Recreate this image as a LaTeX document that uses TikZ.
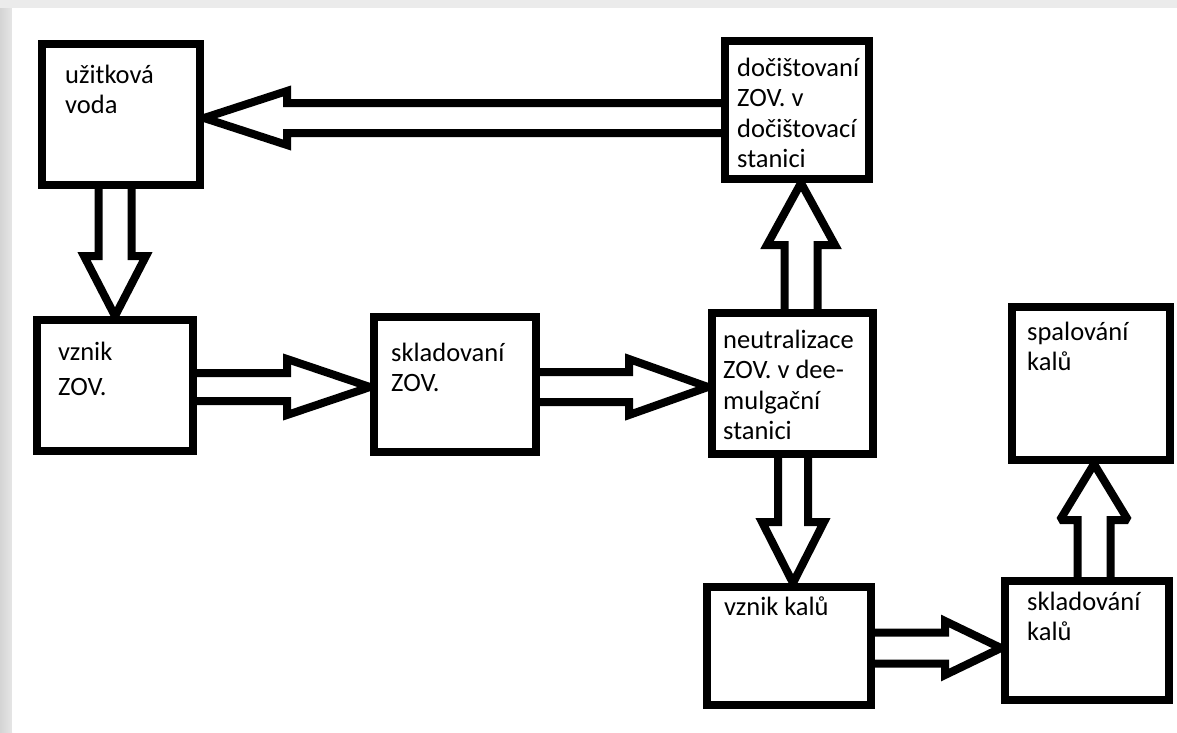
\documentclass[tikz,border=0pt]{standalone}
\usepackage{fontspec}
\setmainfont{Carlito}
\usetikzlibrary{calc}

\tikzset{
  blok/.style={draw, line width=8pt, fill=white},
  popis/.style={anchor=north west, align=left, inner sep=0pt},
  sipka/.style={line width=8pt, line join=miter, miter limit=2}
}

% hollow block arrow: from, to, head length, shaft half width, head half width
\newcommand{\blockarrow}[5]{%
  \coordinate (hb) at ($(#2)!#3!(#1)$);
  \draw[sipka] ($(#1)!#4!90:(#2)$) -- ($(hb)!#4!-90:(#1)$) -- ($(hb)!#5!-90:(#1)$) -- (#2)
    -- ($(hb)!#5!90:(#1)$) -- ($(hb)!#4!90:(#1)$) -- ($(#1)!#4!-90:(#2)$);
}

\begin{document}
\begin{tikzpicture}[x=1pt,y=-1pt]
    \useasboundingbox (0,0) rectangle (1177,732);

    % background
    \fill[black!8] (0,0) rectangle (1177,732);
    \shade[left color=black!17, right color=black!10] (0,8) rectangle (12,732);
    \fill[white] (12,8) rectangle (1177,732);

    \begin{scope}[font=\fontsize{26.5}{30.5}\selectfont]

    % boxes
    \node[blok, minimum width=158pt, minimum height=141pt] (uv) at (121,114.5) {};
    \node[blok, minimum width=144pt, minimum height=138pt] (doc) at (797,110) {};
    \node[blok, minimum width=156pt, minimum height=131pt] (zov) at (115,385.5) {};
    \node[blok, minimum width=162pt, minimum height=135pt] (skl) at (455,384.5) {};
    \node[blok, minimum width=161pt, minimum height=141pt] (neu) at (792.5,383.5) {};
    \node[blok, minimum width=164pt, minimum height=118pt] (kal) at (789,646) {};
    \node[blok, minimum width=164pt, minimum height=119pt] (skk) at (1087,640.5) {};
    \node[blok, minimum width=158pt, minimum height=153pt] (spa) at (1091,383.5) {};

    % texts
    \node[popis] (uvt) at ($(uv.north west)+(27,21.6)$) {\strut užitková\\voda};
    \node[popis] (doct) at ($(doc.north west)+(16,17.6)$) {\strut dočištovaní\\ZOV. v\\dočištovací\\stanici};
    \node[popis, font=\fontsize{26.5}{35}\selectfont] (zovt) at ($(zov.north west)+(25,19.5)$) {\strut vznik\\ZOV.};
    \node[popis] (sklt) at ($(skl.north west)+(21,26.6)$) {\strut skladovaní\\ZOV.};
    \node[popis] (neut) at ($(neu.north west)+(15,17.6)$) {\strut neutralizace\\ZOV. v dee-\\mulgační\\stanici};
    \node[popis] (kalt) at ($(kal.north west)+(21,10.6)$) {\strut vznik kalů};
    \node[popis] (skkt) at ($(skk.north west)+(26,11.6)$) {\strut skladování\\kalů};
    \node[popis] (spat) at ($(spa.north west)+(19,15.6)$) {\strut spalování\\kalů};

    % arrows
    \coordinate (a1) at ($(uv.south)+(-6,0)$);
    \coordinate (b1) at (a1 |- zov.north);
    \blockarrow{a1}{b1}{60pt}{16.5pt}{31pt}

    \coordinate (a2) at ($(doc.west)+(0,8)$);
    \coordinate (b2) at (a2 -| uv.east);
    \blockarrow{a2}{b2}{83pt}{15pt}{27pt}

    \coordinate (a3) at ($(zov.east)+(0,1.5)$);
    \coordinate (b3) at (a3 -| skl.west);
    \blockarrow{a3}{b3}{83pt}{14pt}{28pt}

    \coordinate (a4) at ($(skl.east)+(0,2.5)$);
    \coordinate (b4) at (a4 -| neu.west);
    \blockarrow{a4}{b4}{79pt}{15pt}{28pt}

    \coordinate (a5) at ($(neu.north)+(8.5,0)$);
    \coordinate (b5) at (a5 |- doc.south);
    \blockarrow{a5}{b5}{62pt}{16.5pt}{34pt}

    \coordinate (a6) at ($(neu.south)+(0.5,0)$);
    \coordinate (b6) at (a6 |- kal.north);
    \blockarrow{a6}{b6}{61pt}{15pt}{31pt}

    \coordinate (a7) at ($(kal.east)+(0,2)$);
    \coordinate (b7) at (a7 -| skk.west);
    \blockarrow{a7}{b7}{56pt}{15.5pt}{27pt}

    \coordinate (a8) at ($(skk.north)+(7,0)$);
    \coordinate (b8) at (a8 |- spa.south);
    \blockarrow{a8}{b8}{56pt}{16.5pt}{34pt}

    \end{scope}
\end{tikzpicture}
\end{document}
